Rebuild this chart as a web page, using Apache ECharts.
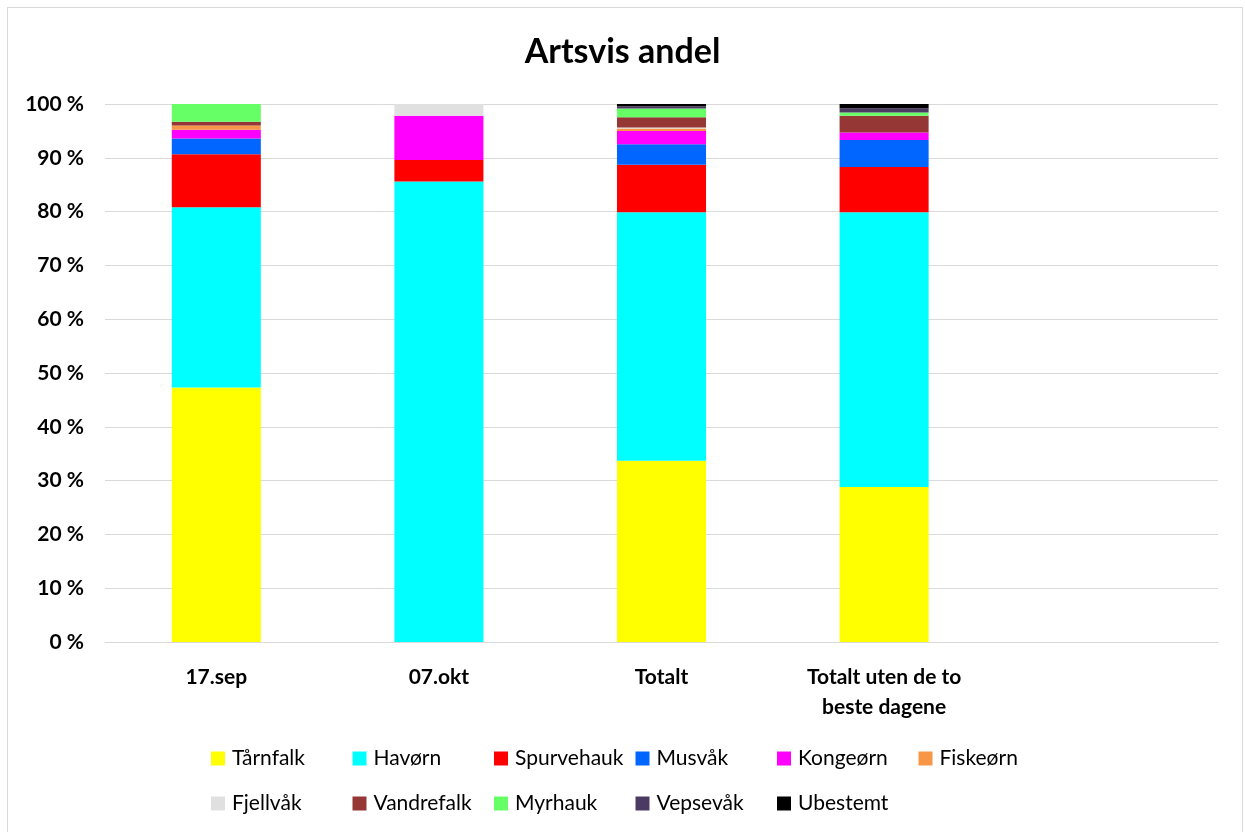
<!DOCTYPE html>
<html>
<head>
<meta charset="utf-8">
<script src="https://cdn.jsdelivr.net/npm/echarts@6/dist/echarts.min.js"></script>
<style>
  html, body { margin: 0; padding: 0; background: #fff; }
  #frame { position: absolute; left: 7px; top: 7px; width: 1236px; height: 830px; border: 1px solid #d9d9d9; box-sizing: border-box; }
  #chart { width: 1245px; height: 832px; position: absolute; left: 0; top: 0; }
</style>
</head>
<body>
<div id="frame"></div>
<div id="chart"></div>
<script>
// Categories (fifth slot is left empty)
const categories = ['17.sep', '07.okt', 'Totalt', 'Totalt uten de to\nbeste dagene', ''];

// Share per species (%) for each category
const species = ['Tårnfalk', 'Havørn', 'Spurvehauk', 'Musvåk', 'Kongeørn', 'Fiskeørn',
                 'Fjellvåk', 'Vandrefalk', 'Myrhauk', 'Vepsevåk', 'Ubestemt'];
const taarnfalk  = [47.3, 0,    33.7, 28.8, null];
const havorn     = [33.5, 85.6, 46.2, 51.1, null];
const spurvehauk = [9.85, 4.0,  8.8,  8.4,  null];
const musvaak    = [2.95, 0,    3.8,  5.0,  null];
const kongeorn   = [1.6,  8.2,  2.5,  1.4,  null];
const fiskeorn   = [0.8,  0,    0.45, 0,    null];
const fjellvaak  = [0,    2.2,  0.2,  0,    null];
const vandrefalk = [0.7,  0,    1.9,  3.1,  null];
const myrhauk    = [3.3,  0,    1.6,  0.6,  null];
const vepsevaak  = [0,    0,    0.45, 0.8,  null];
const ubestemt   = [0,    0,    0.4,  0.8,  null];

const yTicks = [0, 10, 20, 30, 40, 50, 60, 70, 80, 90, 100];

const values = [taarnfalk, havorn, spurvehauk, musvaak, kongeorn, fiskeorn,
                fjellvaak, vandrefalk, myrhauk, vepsevaak, ubestemt];
const colors = ['#FFFF00', '#00FFFF', '#FF0000', '#0066FF', '#FF00FF', '#F79646',
                '#E0E0E0', '#953735', '#66FF66', '#4B3B62', '#000000'];

const font = 'Lato, "Open Sans", sans-serif';

// Legend laid out as a 6-column grid, two rows
const legends = species.map((name, i) => ({
  data: [name],
  left: 206 + (i % 6) * 141.5,
  top: i < 6 ? 743 : 788,
  icon: 'rect',
  itemWidth: 14,
  itemHeight: 14,
  itemGap: 0,
  textStyle: { fontFamily: font, fontSize: 21, color: '#000', padding: [0, 0, 0, 2] }
}));

const chart = echarts.init(document.getElementById('chart'), null, { renderer: 'canvas' });
chart.setOption({
  animation: false,
  color: colors,
  title: {
    text: 'Artsvis andel',
    left: 'center',
    top: 30,
    textStyle: { fontFamily: font, fontSize: 34, fontWeight: 'bold', color: '#000' }
  },
  legend: legends,
  grid: { left: 105, right: 27, top: 104, bottom: 190 },
  xAxis: {
    type: 'category',
    data: categories,
    axisLine: { lineStyle: { color: '#d9d9d9', width: 1 } },
    axisTick: { show: false },
    axisLabel: {
      fontFamily: font, fontSize: 21, fontWeight: 'bold', color: '#000',
      margin: 20, lineHeight: 30, interval: 0
    }
  },
  yAxis: {
    type: 'value',
    min: yTicks[0],
    max: yTicks[yTicks.length - 1],
    interval: 10,
    axisLine: { show: false },
    axisTick: { show: false },
    splitLine: { lineStyle: { color: '#d9d9d9', width: 1 } },
    axisLabel: {
      formatter: '{value} %',
      fontFamily: font, fontSize: 21, fontWeight: 'bold', color: '#000', margin: 21
    }
  },
  series: species.map((name, i) => ({
    name: name,
    type: 'bar',
    stack: 'total',
    barWidth: '40%',
    data: values[i],
    itemStyle: { color: colors[i] }
  }))
});
</script>
</body>
</html>
